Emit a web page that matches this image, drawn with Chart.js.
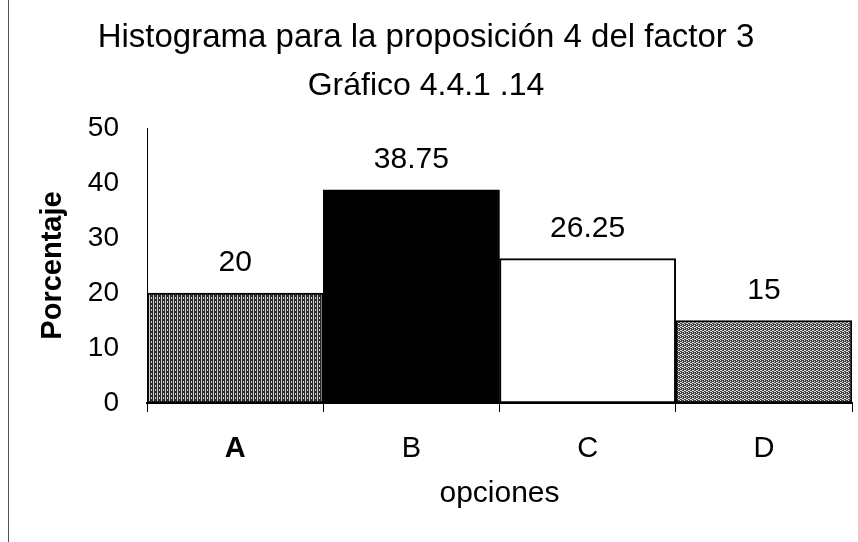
<!DOCTYPE html>
<html>
<head>
<meta charset="utf-8">
<script src="https://cdn.jsdelivr.net/npm/chart.js@4"></script>
<style>
  html, body { margin: 0; padding: 0; background: #fff; }
  #wrap { position: relative; width: 858px; height: 542px; }
  #edge { position: absolute; left: 8px; top: 0; width: 1px; height: 542px; background: #555; }
</style>
</head>
<body>
<div id="wrap">
  <div id="edge"></div>
  <canvas id="chart" width="858" height="542"></canvas>
</div>
<script>
// datos
const opciones = ["A", "B", "C", "D"];
const porcentajes = [20, 38.75, 26.25, 15];
const ticksY = [0, 10, 20, 30, 40, 50];

const FONT = "'Liberation Sans', Arial, sans-serif";

// tramas para las barras
function trama(tipo) {
    const c = document.createElement("canvas");
    c.width = 4;
    c.height = 4;
    const g = c.getContext("2d");
    if (tipo === "rayas") {
        g.fillStyle = "#2a2a2a";
        g.fillRect(0, 0, 4, 4);
        g.fillStyle = "#cfcfcf";
        g.fillRect(1, 0, 1, 4);
        g.fillRect(3, 1, 1, 2);
    } else {
        g.fillStyle = "#444444";
        g.fillRect(0, 0, 4, 4);
        g.fillStyle = "#e0e0e0";
        g.fillRect(0, 0, 1, 1);
        g.fillRect(2, 1, 1, 1);
        g.fillRect(1, 2, 1, 1);
        g.fillRect(3, 3, 1, 1);
        g.fillRect(2, 3, 1, 1);
        g.fillRect(0, 2, 1, 1);
    }
    return g.createPattern(c, "repeat");
}

const ctx = document.getElementById("chart").getContext("2d");
const rellenos = [trama("rayas"), "#000000", "#ffffff", trama("puntos")];

// etiquetas de valor encima de cada barra
const etiquetas = {
    id: "etiquetas",
    afterDatasetsDraw(chart) {
        const meta = chart.getDatasetMeta(0);
        const c = chart.ctx;
        c.save();
        c.font = "30px " + FONT;
        c.fillStyle = "#000";
        c.textAlign = "center";
        c.textBaseline = "middle";
        meta.data.forEach((bar, i) => {
            c.fillText(String(porcentajes[i]), bar.x, bar.y - 30);
        });
        c.restore();
    }
};

new Chart(ctx, {
    type: "bar",
    data: {
        labels: opciones,
        datasets: [{
            data: porcentajes,
            backgroundColor: rellenos,
            borderColor: "#000",
            borderWidth: 2,
            borderSkipped: false,
            categoryPercentage: 1,
            barPercentage: 1
        }]
    },
    options: {
        responsive: false,
        animation: false,
        layout: { padding: { left: 0, right: 6, top: 0, bottom: 0 } },
        plugins: {
            legend: { display: false },
            tooltip: { enabled: false },
            title: {
                display: true,
                text: "Histograma para la proposición 4 del factor 3",
                color: "#000",
                font: { family: FONT, size: 33, weight: "normal" },
                padding: { top: 18, bottom: 4 }
            },
            subtitle: {
                display: true,
                text: "Gráfico 4.4.1 .14",
                color: "#000",
                font: { family: FONT, size: 32, weight: "normal" },
                padding: { top: 5, bottom: 23 }
            }
        },
        scales: {
            x: {
                grid: {
                    offset: true,
                    drawOnChartArea: false,
                    tickLength: 9,
                    color: "#000",
                    lineWidth: 1
                },
                border: { color: "#000", width: 2 },
                ticks: {
                    color: "#000",
                    padding: 20,
                    font: (c) => ({ family: FONT, size: 29, weight: c.index === 0 ? "bold" : "normal" })
                },
                title: {
                    display: true,
                    text: "opciones",
                    color: "#000",
                    font: { family: FONT, size: 30 },
                    padding: { top: 0, bottom: 30 }
                },
                afterFit(scale) { scale.height = 139; }
            },
            y: {
                min: 0,
                max: 50,
                afterBuildTicks(scale) { scale.ticks = ticksY.map(v => ({ value: v })); },
                grid: { display: false },
                border: { color: "#000", width: 1 },
                ticks: {
                    color: "#000",
                    padding: 20,
                    font: { family: FONT, size: 28 }
                },
                title: {
                    display: true,
                    text: "Porcentaje",
                    color: "#000",
                    font: { family: FONT, size: 29, weight: "bold" },
                    padding: { top: 36, bottom: 0 }
                },
                afterFit(scale) { scale.width = 147; }
            }
        }
    },
    plugins: [etiquetas]
});
</script>
</body>
</html>
